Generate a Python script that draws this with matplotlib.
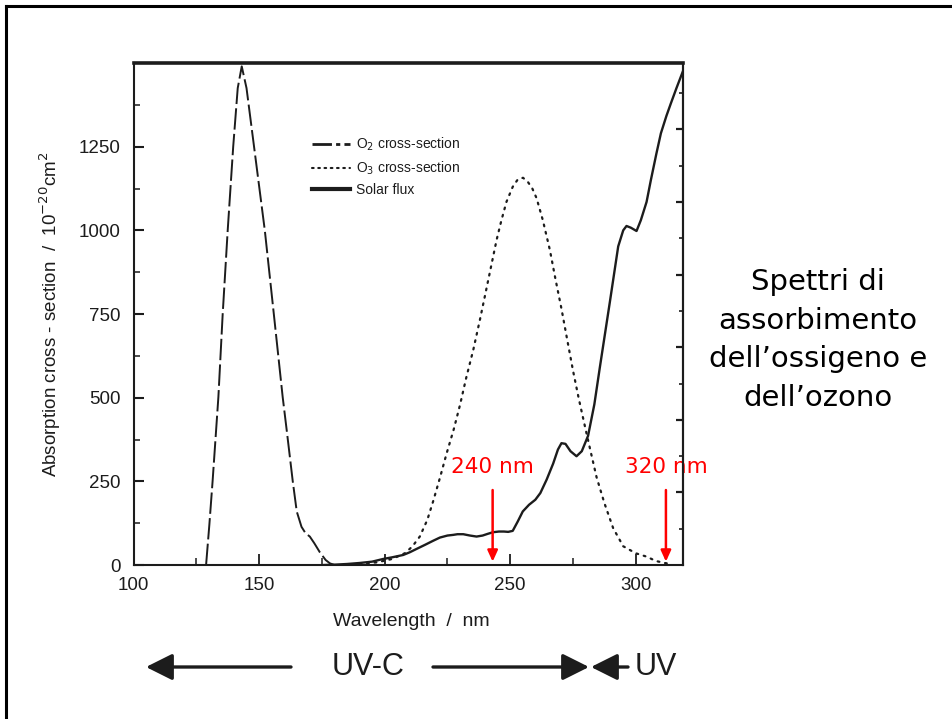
import matplotlib
matplotlib.use("Agg")
import matplotlib.pyplot as plt
from matplotlib.lines import Line2D
from matplotlib.ticker import MultipleLocator, NullFormatter

# ---------------- data ----------------
o2_nm = [128.9, 130.2, 131.5, 133.8, 135.5, 137.5, 139.7, 141.5, 143.1, 145.0,
         148.0, 152.3, 155.9, 159.4, 161.0, 163.4, 165.0, 166.9, 168.5, 170.2,
         172.0, 174.2, 176.5, 178.2, 180.0]
o2_val = [0, 120, 251, 502, 748, 999, 1250, 1425, 1490, 1425,
          1250, 999, 748, 502, 403, 251, 160, 114, 95, 85,
          65, 38, 15, 5, 0]

o3_nm = [190, 197, 203, 208, 211, 214, 217, 219.3, 222, 224.7, 227.5, 230.0,
         232.5, 235.3, 238, 240.6, 242.6, 244.6, 246.5, 248.5, 251, 253, 255.1,
         257, 258.8, 260.5, 263, 265.8, 268, 270.4, 272.7, 275.0, 277.3, 279.7,
         282, 284.4, 287.5, 291, 295, 300, 304.3, 308, 311.5, 314]
o3_val = [3, 8, 18, 35, 55, 85, 135, 190, 260, 334, 405, 478,
          560, 643, 735, 828, 900, 972, 1030, 1085, 1130, 1152, 1157,
          1145, 1125, 1096, 1030, 941, 855, 766, 673, 581, 497, 416,
          340, 262, 185, 110, 56, 35, 25, 12, 6, 3]

sun_nm = [176, 180, 185, 190, 195, 199.4, 203, 207.4, 210, 212.7, 216, 219.2,
          222, 225, 227.3, 229, 231.3, 234, 236.6, 239, 241, 243.2, 245.5,
          247.5, 249.2, 251, 253, 255, 257.5, 260, 262, 264.5, 267.1, 269,
          270.4, 272, 274, 276.4, 278.5, 281, 283.5, 285.7, 289.7, 293.0, 295,
          296.3, 298, 300.3, 302, 304.3, 306, 308.2, 310, 312.2, 314, 316.2, 318.8]
sun_val = [0, 1, 3, 6, 10, 18, 23, 30, 38, 48, 60, 72,
           82, 88, 90, 92, 92, 88, 85, 88, 93, 98, 100,
           100, 99, 102, 130, 160, 180, 195, 215, 255, 303, 345,
           364, 362, 340, 325, 340, 386, 480, 591, 787, 952, 1000,
           1013, 1008, 998, 1030, 1085, 1150, 1229, 1290, 1342, 1380, 1425, 1476]

y_major = [0, 250, 500, 750, 1000, 1250]
x_major = [100, 150, 200, 250, 300]
legend_labels = ["O$_2$ cross-section", "O$_3$ cross-section", "Solar flux"]
marks = [(243.0, "240 nm"), (312.0, "320 nm")]
side_text = ["Spettri di", "assorbimento", "dell\u2019ossigeno e", "dell\u2019ozono"]

# ---------------- figure ----------------
W, H = 952, 719
fig = plt.figure(figsize=(W / 100, H / 100), dpi=100)
fig.patch.set_facecolor("white")

def fx(px):
    return px / W

def fy(py):
    return 1 - py / H

L, R, T, B = 133.5, 683, 63, 565
ax = fig.add_axes([fx(L), fy(B), (R - L) / W, (B - T) / H])
ink = "#1c1c1c"
sans = ["Liberation Sans", "DejaVu Sans"]

ax.plot(o2_nm, o2_val, color=ink, lw=1.4, linestyle=(0, (11, 2.2)), zorder=3)
ax.plot(o3_nm, o3_val, color=ink, lw=1.6, linestyle=(0, (0.8, 2.6)),
        dash_capstyle="round", zorder=3)
ax.plot(sun_nm, sun_val, color=ink, lw=1.7, zorder=4)

ax.set_xlim(100, 318.8)
ax.set_ylim(0, 1500)
ax.set_xticks(x_major)
ax.set_yticks(y_major)
ax.xaxis.set_minor_locator(MultipleLocator(25))
ax.yaxis.set_minor_locator(MultipleLocator(125))
ax.tick_params(axis="both", which="both", direction="in", colors=ink,
               labelcolor=ink, labelsize=13.5, right=False, top=False)
ax.tick_params(axis="x", which="major", length=8, width=1.3, pad=9)
ax.tick_params(axis="x", which="minor", length=5, width=1.1)
ax.tick_params(axis="y", which="major", length=7, width=1.5, pad=9)
ax.tick_params(axis="y", which="minor", length=4.5, width=1.1)
for lab in ax.get_xticklabels() + ax.get_yticklabels():
    lab.set_family(sans)

for side in ["left", "bottom", "right"]:
    ax.spines[side].set_linewidth(1.5)
    ax.spines[side].set_color(ink)
ax.spines["top"].set_linewidth(2.6)
ax.spines["top"].set_color(ink)

ax2 = ax.twinx()
ax2.set_ylim(0, 13.83)
ax2.set_yticks([2, 4, 6, 8, 10, 12])
ax2.yaxis.set_minor_locator(MultipleLocator(1))
ax2.yaxis.set_major_formatter(NullFormatter())
ax2.tick_params(axis="y", which="major", direction="in", length=5, width=1.6, colors=ink)
ax2.tick_params(axis="y", which="minor", direction="in", length=3, width=1.2, colors=ink)
for side in ["left", "top", "bottom"]:
    ax2.spines[side].set_visible(False)
ax2.spines["right"].set_linewidth(1.5)
ax2.spines["right"].set_color(ink)

ax.set_xlabel("Wavelength  /  nm", fontsize=14, family=sans, color=ink)
ax.xaxis.label.set_va("center")
ax.xaxis.set_label_coords((411 - L) / (R - L), (B - 621) / (B - T))
ax.set_ylabel("Absorption cross - section  /  10$^{-20}$cm$^2$", fontsize=13.5,
              family=sans, color=ink)
ax.yaxis.label.set_va("center")
ax.yaxis.set_label_coords((50 - L) / (R - L), (B - 314) / (B - T))

# legend
handles = [Line2D([], [], color=ink, lw=2.0, linestyle=(0, (7, 1.5, 1.5, 1.5))),
           Line2D([], [], color=ink, lw=1.5, linestyle=(0, (0.8, 2.2)), dash_capstyle="round"),
           Line2D([], [], color=ink, lw=3.0)]
leg = fig.legend(handles, legend_labels, loc="upper left",
                 bbox_to_anchor=(fx(312), fy(136)), frameon=False,
                 prop={"family": sans, "size": 10}, handlelength=2.7,
                 handletextpad=0.5, labelspacing=0.45, borderpad=0,
                 borderaxespad=0)
for t in leg.get_texts():
    t.set_color(ink)

# red wavelength markers
for xm, txt in marks:
    ax.annotate("", xy=(xm, 10), xytext=(xm, 224),
                arrowprops=dict(arrowstyle="-|>,head_length=0.55,head_width=0.25",
                                color="#ff0000", lw=1.8, mutation_scale=12,
                                shrinkA=0, shrinkB=0),
                annotation_clip=False, zorder=6)
    ax.text(xm, 293, txt, color="#ff0000", fontsize=15.5, ha="center",
            va="center", family="DejaVu Sans", clip_on=False, zorder=6)

# side text
baselines = [290, 329, 367, 406]
for s, by in zip(side_text, baselines):
    fig.text(fx(818), fy(by), s, fontsize=21, ha="center", va="baseline",
             family="DejaVu Sans", color="black")

# UV-C band arrows below the plot
yy = fy(667)
arrow_kw = dict(arrowstyle="-|>,head_length=0.9,head_width=0.45", color=ink,
                lw=2.4, mutation_scale=18, shrinkA=0, shrinkB=0)
fig.add_artist(matplotlib.patches.FancyArrowPatch((fx(291), yy), (fx(146), yy),
               transform=fig.transFigure, **arrow_kw))
fig.add_artist(matplotlib.patches.FancyArrowPatch((fx(433), yy), (fx(589), yy),
               transform=fig.transFigure, **arrow_kw))
fig.add_artist(matplotlib.patches.FancyArrowPatch((fx(628), yy), (fx(591), yy),
               transform=fig.transFigure, **arrow_kw))
fig.text(fx(368), yy, "UV-C", fontsize=22, ha="center", va="center",
         family=sans, color=ink)
fig.text(fx(656), yy, "UV", fontsize=22, ha="center", va="center",
         family=sans, color=ink)

# slide border (top and left edges visible)
fig.add_artist(Line2D([fx(6), fx(6)], [fy(6), fy(730)], transform=fig.transFigure,
                      color="black", lw=2.2))
fig.add_artist(Line2D([fx(6), fx(960)], [fy(6), fy(6)], transform=fig.transFigure,
                      color="black", lw=2.2))

fig.savefig("out.png", dpi=100, facecolor="white")
